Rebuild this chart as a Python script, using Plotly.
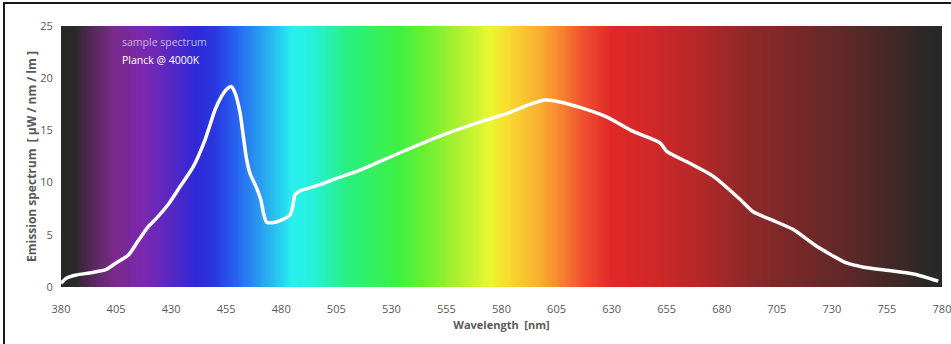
import numpy as np
import plotly.graph_objects as go

# Spectrum curve (wavelength nm, emission µW/nm/lm)
wavelength = [380, 382.6, 387, 393, 400, 405, 410.6, 415, 419.6, 423.4, 429, 434, 440, 445.4,
              450, 453, 455, 457.3, 459, 461.3, 462.8, 464.3, 465.8, 468.8, 470.8, 471.9,
              473.4, 477.2, 481, 484, 485.2, 486.2, 488.5, 497.6, 505, 517, 530, 542, 555,
              570.2, 582.3, 592.9, 600, 607, 615.6, 627.7, 639.8, 652, 655, 665, 676.2,
              688.3, 694.3, 703, 712.5, 723.1, 736.7, 744.3, 755, 767, 778.3]
emission = [0.35, 0.86, 1.15, 1.35, 1.63, 2.3, 3.06, 4.4, 5.78, 6.6, 8.0, 9.6, 11.5, 14.1,
            17.0, 18.3, 18.9, 19.2, 18.6, 16.7, 14.4, 12.2, 10.9, 9.5, 8.3, 7.1,
            6.2, 6.2, 6.5, 6.9, 7.7, 8.8, 9.2, 9.8, 10.4, 11.3, 12.5, 13.6, 14.7,
            15.8, 16.6, 17.5, 17.9, 17.7, 17.2, 16.3, 14.9, 13.8, 13.0, 11.9, 10.6,
            8.4, 7.2, 6.4, 5.5, 3.9, 2.3, 1.9, 1.6, 1.25, 0.57]

# Background spectrum gradient stops
grad_nm = [380, 386, 395, 404, 418, 432, 441, 450, 459, 468, 477, 485, 495, 510, 534, 547,
           561, 575, 581, 597, 606, 617, 630, 645, 668, 690, 713, 736, 759, 776, 780]
grad_col = ["#282828", "#2a2828", "#5a2860", "#7a2a8a", "#7a28b0", "#5028c8", "#3028d8",
            "#2838e0", "#2860f0", "#2890f0", "#28c0f0", "#28f0f0", "#28f0d8", "#28f080",
            "#40f040", "#70f030", "#b0f030", "#e8f830", "#f8e030", "#f8b030", "#f88830",
            "#f05030", "#e02828", "#d42828", "#b82828", "#902828", "#782828", "#602828",
            "#402828", "#282828", "#282828"]

x_ticks = list(range(380, 781, 25))
y_ticks = [0, 5, 10, 15, 20, 25]

lo, hi = grad_nm[0], grad_nm[-1]
colorscale = [[(w - lo) / (hi - lo), c] for w, c in zip(grad_nm, grad_col)]
bg_x = np.arange(lo, hi + 0.5, 0.5)

fig = go.Figure()
fig.add_trace(go.Heatmap(
    x=bg_x, y=[0, 25], z=[bg_x, bg_x], colorscale=colorscale,
    zmin=lo, zmax=hi, showscale=False, hoverinfo="skip"))
fig.add_trace(go.Scatter(
    x=wavelength, y=emission, mode="lines",
    line=dict(color="white", width=3.5, shape="spline", smoothing=0.6),
    showlegend=False))

fig.add_annotation(text="sample spectrum", xref="paper", yref="paper", x=0.067, y=0.939,
                   xanchor="left", yanchor="middle", showarrow=False,
                   font=dict(family="Open Sans", size=10.5, color="rgba(235,225,245,0.75)"))
fig.add_annotation(text="Planck @ 4000K", xref="paper", yref="paper", x=0.067, y=0.870,
                   xanchor="left", yanchor="middle", showarrow=False,
                   font=dict(family="Open Sans", size=10.5, color="white"))

# outer frame (top and left visible)
fig.add_shape(type="rect", xref="paper", yref="paper", x0=-0.0647, x1=1.02, y0=-0.3, y1=1.088,
              line=dict(color="#1a1a1a", width=2), fillcolor="rgba(0,0,0,0)", layer="below")

fig.update_layout(
    width=951, height=344,
    margin=dict(l=61, r=9, t=26, b=57, autoexpand=False),
    paper_bgcolor="white", plot_bgcolor="white",
    font=dict(family="Open Sans", size=11, color="#595959"),
    xaxis=dict(range=[380, 780], tickvals=x_ticks, ticks="outside", ticklen=12,
               tickcolor="rgba(0,0,0,0)", showgrid=False, zeroline=False, automargin=False,
               showline=False, tickfont=dict(size=11, color="#595959"),
               ticklabeloverflow="allow",
               title=dict(text="<b>Wavelength  [nm]</b>", font=dict(size=11, color="#595959"),
                          standoff=6)),
    yaxis=dict(range=[0, 25], tickvals=y_ticks, ticks="outside", ticklen=5,
               tickcolor="rgba(0,0,0,0)", showgrid=False, zeroline=False, automargin=False,
               showline=False, tickfont=dict(size=11, color="#595959"),
               title=dict(text="<b>Emission spectrum  [ µW / nm / lm ]</b>",
                          font=dict(size=12, color="#595959"), standoff=0)),
)

fig.write_html("out.html", config={"displayModeBar": False},
               post_script="document.body.style.margin='0px';")
